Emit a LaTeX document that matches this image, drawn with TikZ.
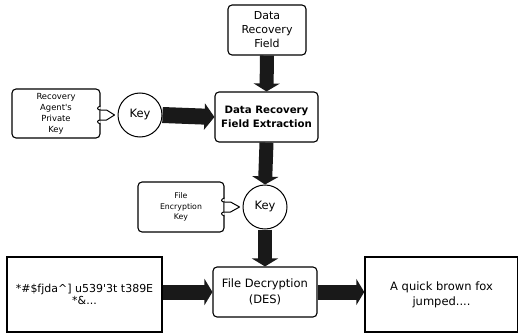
\documentclass[tikz,border=0pt]{standalone}
\usepackage{fontspec}
\setmainfont{DejaVu Sans}[Ligatures=TeXOff]
\usetikzlibrary{arrows.meta}
\begin{document}
\begin{tikzpicture}[x=1pt,y=-1pt,
  rbox/.style={draw, line width=1.1pt, rounded corners=4pt, align=center, inner sep=1pt, fill=white},
  sbox/.style={draw, line width=1.4pt, align=center, inner sep=1pt, fill=white},
  keyc/.style={draw, circle, line width=1pt, minimum size=44pt, inner sep=0pt,
    font=\fontsize{11.5}{13}\selectfont},
  flow/.style={line width=14pt, black!90,
    -{Triangle[width=26pt,length=8pt]}},
  tab/.style={draw, line width=1pt, fill=white, line join=round},
  big/.style={font=\fontsize{11}{14}\selectfont},
  small/.style={font=\fontsize{8.4}{11}\selectfont},
  tiny/.style={font=\fontsize{7.8}{10.5}\selectfont}]
  \useasboundingbox (0,0) rectangle (518,334);

  % boxes
  \node[rbox, big, minimum width=78pt, minimum height=50pt] (drf) at (267,30) {Data\\Recovery\\Field};
  \node[rbox, minimum width=103pt, minimum height=50pt,
        font=\fontsize{10.2}{14.5}\selectfont\bfseries] (drfe) at (266.5,117) {Data Recovery\\Field Extraction};
  \node[rbox, small, minimum width=88pt, minimum height=49pt] (rapk) at (56,113.5) {Recovery\\Agent's\\Private\\Key};
  \node[keyc] (key1) at (140,115) {Key};
  \node[rbox, tiny, minimum width=86pt, minimum height=50pt] (fek) at (181,207) {File\\Encryption\\Key};
  \node[keyc] (key2) at (265,207) {Key};
  \node[rbox, minimum width=104pt, minimum height=50pt,
        font=\fontsize{11.5}{15.5}\selectfont] (fd) at (265,292) {File Decryption\\(DES)};
  \node[sbox, minimum width=155pt, minimum height=75pt,
        font=\fontsize{11}{12.5}\selectfont] (cipher) at (84.5,294.5) {*\#\$fjda\^{}] u539'3t t389E\\*\&...};
  \node[sbox, minimum width=153pt, minimum height=75pt,
        font=\fontsize{11.5}{15}\selectfont] (plain) at (441.5,294.5) {A quick brown fox\\jumped....};

  % key tabs: a small hooked notch with a pointed lug toward the key
  \coordinate (t1) at (rapk.east |- key1.west);
  \draw[tab] ([yshift=9pt]t1) .. controls ([xshift=-4pt,yshift=8pt]t1) and ([xshift=-4pt,yshift=5pt]t1) .. ([yshift=5pt]t1)
    -- ([xshift=6pt,yshift=5pt]t1) -- ([xshift=14pt]t1) -- ([xshift=6pt,yshift=-5pt]t1) -- ([yshift=-5pt]t1)
    .. controls ([xshift=-4pt,yshift=-5pt]t1) and ([xshift=-4pt,yshift=-8pt]t1) .. ([yshift=-9pt]t1);
  \coordinate (t2) at (fek.east |- key2.west);
  \draw[tab] ([yshift=9pt]t2) .. controls ([xshift=-4pt,yshift=8pt]t2) and ([xshift=-4pt,yshift=5pt]t2) .. ([yshift=5pt]t2)
    -- ([xshift=6pt,yshift=5pt]t2) -- ([xshift=15pt]t2) -- ([xshift=6pt,yshift=-5pt]t2) -- ([yshift=-5pt]t2)
    .. controls ([xshift=-4pt,yshift=-5pt]t2) and ([xshift=-4pt,yshift=-8pt]t2) .. ([yshift=-9pt]t2);

  % thick flow arrows
  \draw[flow] (drf.south) -- (drfe.north);
  \draw[flow, line width=16pt, -{Triangle[width=26pt,length=10pt]}] (key1.east) -- (drfe.west);
  \draw[flow] (drfe.south) -- (key2.north);
  \draw[flow] (key2.south) -- (fd.north);
  \draw[flow, line width=15pt] (cipher.east |- fd.west) -- (fd.west);
  \draw[flow, line width=15pt] (fd.east) -- (plain.west |- fd.east);
\end{tikzpicture}
\end{document}
